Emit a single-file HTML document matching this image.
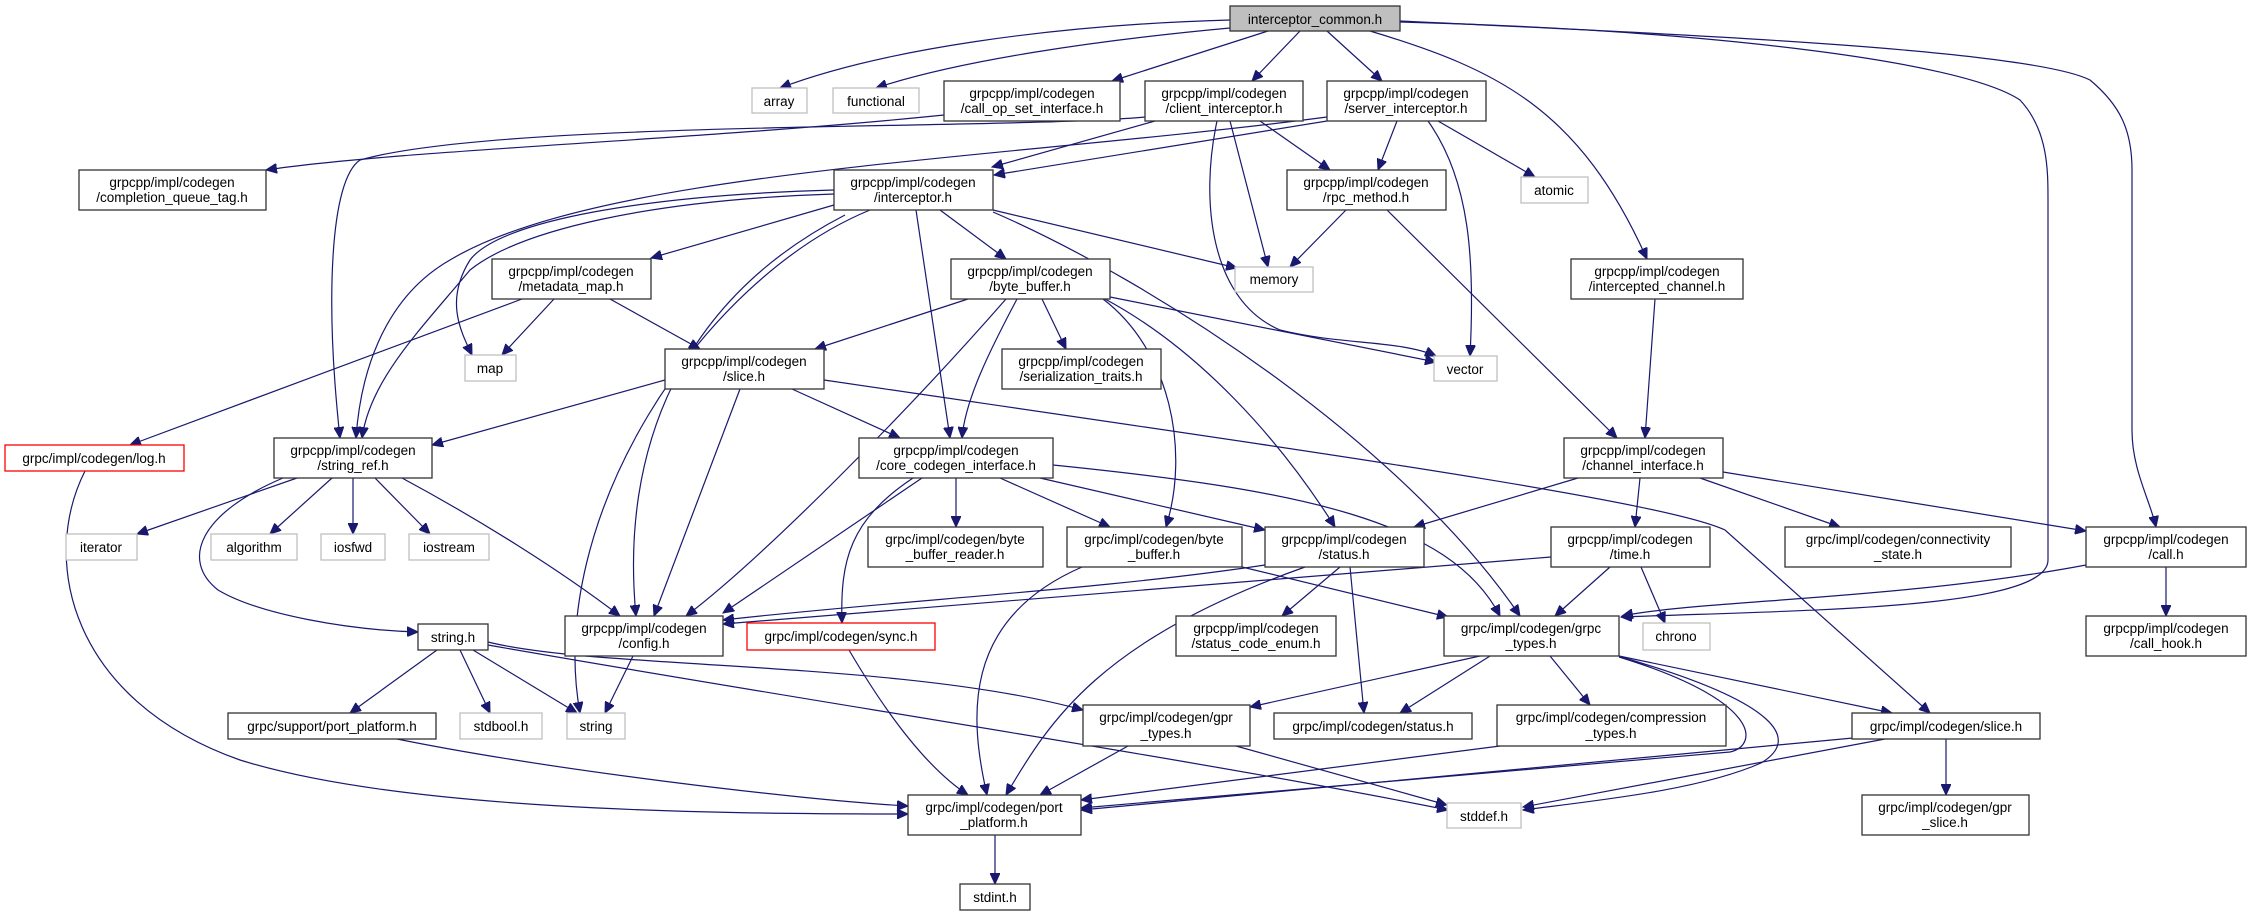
<!DOCTYPE html>
<html><head><meta charset="utf-8"><style>
html,body{margin:0;padding:0;background:#fff;}
svg{display:block;}
text{font-family:"Liberation Sans","DejaVu Sans",sans-serif;font-size:13.5px;fill:#000;text-anchor:middle;}
.n{fill:#fff;stroke:#333;stroke-width:1.3;}
.s{fill:#fff;stroke:#bfbfbf;stroke-width:1.3;}
.r{fill:#fff;stroke:#ff0000;stroke-width:1.3;}
.e{fill:none;stroke:#191970;stroke-width:1.2;}
</style></head><body>
<svg width="2251" height="916" viewBox="0 0 2251 916" xmlns="http://www.w3.org/2000/svg">
<defs><marker id="a" markerUnits="userSpaceOnUse" markerWidth="12" markerHeight="10" refX="11" refY="5" orient="auto"><path d="M0,0 L11,5 L0,10 z" fill="#191970" stroke="#191970"/></marker></defs>
<g class="e" marker-end="url(#a)">
<path d="M1230,20 C1050,25 880,50 780,88"/>
<path d="M1230,28 C1100,40 960,60 876,88"/>
<path d="M1268,31 L1112,81"/>
<path d="M1300,31 L1252,81"/>
<path d="M1327,31 L1382,81"/>
<path d="M1370,31 C1500,70 1580,110 1647,259"/>
<path d="M1400,22 C1700,30 1960,60 2020,100 C2048,130 2048,170 2048,200 L2048,560 C2048,610 1800,610 1621,617"/>
<path d="M1400,21 C1700,35 2030,50 2090,80 C2120,105 2132,130 2132,170 L2132,430 C2132,470 2150,500 2156,527"/>
<path d="M944,115 C700,140 400,150 266,170"/>
<path d="M1145,117 C1000,130 500,120 360,160 C330,180 325,300 340,438"/>
<path d="M1327,117 C1000,160 600,170 450,260 C380,300 360,380 356,438"/>
<path d="M834,190 C650,195 500,220 470,260 C445,300 460,330 472,355"/>
<path d="M834,194 C650,200 520,230 470,270 C420,330 370,380 362,438"/>
<path d="M1155,121 L992,167"/>
<path d="M1327,121 L994,175"/>
<path d="M1230,121 L1268,267"/>
<path d="M1260,121 L1330,170"/>
<path d="M1217,121 C1200,200 1210,300 1280,330 C1340,345 1400,340 1436,356"/>
<path d="M1397,121 L1378,170"/>
<path d="M1438,121 L1535,177"/>
<path d="M1428,121 C1470,180 1475,260 1470,356"/>
<path d="M1346,210 L1290,267"/>
<path d="M1387,210 L1617,438"/>
<path d="M1655,299 L1645,438"/>
<path d="M834,205 L651,258"/>
<path d="M993,210 L1237,268"/>
<path d="M940,210 L1006,259"/>
<path d="M916,210 L950,438"/>
<path d="M870,210 C700,280 545,520 580,713"/>
<path d="M845,215 C680,300 620,450 636,616"/>
<path d="M993,212 C1150,280 1400,440 1520,616"/>
<path d="M522,299 L130,445"/>
<path d="M554,299 L502,355"/>
<path d="M610,299 L700,349"/>
<path d="M968,299 L815,349"/>
<path d="M1006,299 C900,420 760,560 686,616"/>
<path d="M1017,299 C990,350 965,400 962,438"/>
<path d="M1042,299 L1066,349"/>
<path d="M1110,297 L1436,362"/>
<path d="M1103,299 C1170,350 1190,450 1166,527"/>
<path d="M1105,299 C1200,350 1280,440 1335,527"/>
<path d="M665,380 L432,445"/>
<path d="M792,389 L900,438"/>
<path d="M740,389 L654,616"/>
<path d="M824,380 C1300,450 1660,500 1725,530 L1930,713"/>
<path d="M297,478 L137,534"/>
<path d="M332,478 L270,534"/>
<path d="M353,478 L353,534"/>
<path d="M375,478 L430,534"/>
<path d="M283,478 C200,513 180,560 218,590 C260,615 350,630 418,632"/>
<path d="M402,478 C480,520 560,570 620,616"/>
<path d="M85,471 C40,560 70,700 240,760 C400,810 700,814 908,814"/>
<path d="M397,739 C550,770 800,800 908,806"/>
<path d="M437,650 L350,713"/>
<path d="M460,650 L490,713"/>
<path d="M473,650 L577,713"/>
<path d="M488,642 C600,670 900,660 1083,710"/>
<path d="M488,645 C800,700 1200,760 1448,810"/>
<path d="M633,656 L605,713"/>
<path d="M956,478 L956,527"/>
<path d="M1000,478 L1110,527"/>
<path d="M1040,478 L1265,530"/>
<path d="M1053,465 C1300,490 1450,520 1500,616"/>
<path d="M922,478 L723,613"/>
<path d="M913,478 C850,520 840,560 842,623"/>
<path d="M1082,567 C960,620 970,720 987,795"/>
<path d="M1242,567 L1448,617"/>
<path d="M1340,567 L1282,616"/>
<path d="M1350,567 L1364,713"/>
<path d="M1305,567 C1100,640 1050,720 1006,795"/>
<path d="M1265,565 C1100,590 900,600 723,620"/>
<path d="M849,650 C890,720 930,770 968,795"/>
<path d="M1578,478 L1414,527"/>
<path d="M1640,478 L1635,527"/>
<path d="M1700,478 L1840,527"/>
<path d="M1723,472 L2086,531"/>
<path d="M1610,567 L1555,616"/>
<path d="M1641,567 L1665,623"/>
<path d="M1551,557 L723,624"/>
<path d="M2086,565 C1900,600 1700,600 1622,616"/>
<path d="M2166,567 L2166,616"/>
<path d="M1480,656 L1250,707"/>
<path d="M1490,656 L1400,713"/>
<path d="M1550,656 L1590,705"/>
<path d="M1619,656 L1892,713"/>
<path d="M1619,657 C1760,700 1760,745 1730,752 L1081,808"/>
<path d="M1621,657 C1781,703 1800,740 1761,763 C1700,790 1600,800 1523,810"/>
<path d="M1500,746 L1081,800"/>
<path d="M1128,746 L1040,795"/>
<path d="M1236,746 L1447,805"/>
<path d="M1853,738 L1081,810"/>
<path d="M1885,739 L1523,807"/>
<path d="M1946,739 L1946,795"/>
<path d="M995,835 L995,884"/>
</g>

<!-- nodes -->
<rect x="1230" y="6" width="170" height="25" fill="#bfbfbf" stroke="#333" stroke-width="1.3"/><text x="1315" y="24">interceptor_common.h</text>
<rect class="s" x="752" y="88" width="55" height="25"/><text x="779" y="106">array</text>
<rect class="s" x="833" y="88" width="86" height="25"/><text x="876" y="106">functional</text>
<rect class="n" x="944" y="81" width="176" height="40"/><text x="1032" y="98">grpcpp/impl/codegen</text><text x="1032" y="113">/call_op_set_interface.h</text>
<rect class="n" x="1145" y="81" width="158" height="40"/><text x="1224" y="98">grpcpp/impl/codegen</text><text x="1224" y="113">/client_interceptor.h</text>
<rect class="n" x="1327" y="81" width="159" height="40"/><text x="1406" y="98">grpcpp/impl/codegen</text><text x="1406" y="113">/server_interceptor.h</text>
<rect class="n" x="79" y="170" width="187" height="40"/><text x="172" y="187">grpcpp/impl/codegen</text><text x="172" y="202">/completion_queue_tag.h</text>
<rect class="n" x="834" y="170" width="159" height="40"/><text x="913" y="187">grpcpp/impl/codegen</text><text x="913" y="202">/interceptor.h</text>
<rect class="n" x="1287" y="170" width="159" height="40"/><text x="1366" y="187">grpcpp/impl/codegen</text><text x="1366" y="202">/rpc_method.h</text>
<rect class="s" x="1521" y="177" width="67" height="26"/><text x="1554" y="195">atomic</text>
<rect class="n" x="492" y="259" width="159" height="40"/><text x="571" y="276">grpcpp/impl/codegen</text><text x="571" y="291">/metadata_map.h</text>
<rect class="n" x="951" y="259" width="159" height="40"/><text x="1030" y="276">grpcpp/impl/codegen</text><text x="1030" y="291">/byte_buffer.h</text>
<rect class="s" x="1235" y="267" width="78" height="25"/><text x="1274" y="284">memory</text>
<rect class="n" x="1571" y="259" width="172" height="40"/><text x="1657" y="276">grpcpp/impl/codegen</text><text x="1657" y="291">/intercepted_channel.h</text>
<rect class="s" x="465" y="355" width="51" height="26"/><text x="490" y="373">map</text>
<rect class="n" x="665" y="349" width="159" height="40"/><text x="744" y="366">grpcpp/impl/codegen</text><text x="744" y="381">/slice.h</text>
<rect class="n" x="1002" y="349" width="159" height="40"/><text x="1081" y="366">grpcpp/impl/codegen</text><text x="1081" y="381">/serialization_traits.h</text>
<rect class="s" x="1434" y="356" width="63" height="25"/><text x="1465" y="374">vector</text>
<rect class="r" x="5" y="445" width="179" height="26"/><text x="94" y="463">grpc/impl/codegen/log.h</text>
<rect class="n" x="274" y="438" width="158" height="40"/><text x="353" y="455">grpcpp/impl/codegen</text><text x="353" y="470">/string_ref.h</text>
<rect class="n" x="859" y="438" width="194" height="40"/><text x="956" y="455">grpcpp/impl/codegen</text><text x="956" y="470">/core_codegen_interface.h</text>
<rect class="n" x="1564" y="438" width="159" height="40"/><text x="1643" y="455">grpcpp/impl/codegen</text><text x="1643" y="470">/channel_interface.h</text>
<rect class="s" x="66" y="534" width="71" height="26"/><text x="101" y="552">iterator</text>
<rect class="s" x="211" y="534" width="86" height="26"/><text x="254" y="552">algorithm</text>
<rect class="s" x="321" y="534" width="64" height="26"/><text x="353" y="552">iosfwd</text>
<rect class="s" x="409" y="534" width="80" height="26"/><text x="449" y="552">iostream</text>
<rect class="n" x="868" y="527" width="175" height="40"/><text x="955" y="544">grpc/impl/codegen/byte</text><text x="955" y="559">_buffer_reader.h</text>
<rect class="n" x="1067" y="527" width="175" height="40"/><text x="1154" y="544">grpc/impl/codegen/byte</text><text x="1154" y="559">_buffer.h</text>
<rect class="n" x="1265" y="527" width="159" height="40"/><text x="1344" y="544">grpcpp/impl/codegen</text><text x="1344" y="559">/status.h</text>
<rect class="n" x="1551" y="527" width="159" height="40"/><text x="1630" y="544">grpcpp/impl/codegen</text><text x="1630" y="559">/time.h</text>
<rect class="n" x="1785" y="527" width="226" height="40"/><text x="1898" y="544">grpc/impl/codegen/connectivity</text><text x="1898" y="559">_state.h</text>
<rect class="n" x="2086" y="527" width="160" height="40"/><text x="2166" y="544">grpcpp/impl/codegen</text><text x="2166" y="559">/call.h</text>
<rect class="n" x="418" y="624" width="70" height="26"/><text x="453" y="642">string.h</text>
<rect class="n" x="565" y="616" width="158" height="40"/><text x="644" y="633">grpcpp/impl/codegen</text><text x="644" y="648">/config.h</text>
<rect class="r" x="747" y="623" width="188" height="27"/><text x="841" y="641">grpc/impl/codegen/sync.h</text>
<rect class="n" x="1176" y="616" width="160" height="40"/><text x="1256" y="633">grpcpp/impl/codegen</text><text x="1256" y="648">/status_code_enum.h</text>
<rect class="n" x="1444" y="616" width="175" height="40"/><text x="1531" y="633">grpc/impl/codegen/grpc</text><text x="1531" y="648">_types.h</text>
<rect class="s" x="1643" y="623" width="67" height="27"/><text x="1676" y="641">chrono</text>
<rect class="n" x="2086" y="616" width="160" height="40"/><text x="2166" y="633">grpcpp/impl/codegen</text><text x="2166" y="648">/call_hook.h</text>
<rect class="n" x="228" y="713" width="208" height="26"/><text x="332" y="731">grpc/support/port_platform.h</text>
<rect class="s" x="460" y="713" width="82" height="26"/><text x="501" y="731">stdbool.h</text>
<rect class="s" x="567" y="713" width="58" height="26"/><text x="596" y="731">string</text>
<rect class="n" x="1083" y="705" width="167" height="41"/><text x="1166" y="722">grpc/impl/codegen/gpr</text><text x="1166" y="738">_types.h</text>
<rect class="n" x="1274" y="713" width="198" height="26"/><text x="1373" y="731">grpc/impl/codegen/status.h</text>
<rect class="n" x="1497" y="705" width="229" height="41"/><text x="1611" y="722">grpc/impl/codegen/compression</text><text x="1611" y="738">_types.h</text>
<rect class="n" x="1852" y="713" width="188" height="26"/><text x="1946" y="731">grpc/impl/codegen/slice.h</text>
<rect class="n" x="908" y="795" width="173" height="40"/><text x="994" y="812">grpc/impl/codegen/port</text><text x="994" y="827">_platform.h</text>
<rect class="s" x="1447" y="803" width="74" height="25"/><text x="1484" y="821">stddef.h</text>
<rect class="n" x="1862" y="795" width="167" height="40"/><text x="1945" y="812">grpc/impl/codegen/gpr</text><text x="1945" y="827">_slice.h</text>
<rect class="n" x="960" y="884" width="70" height="26"/><text x="995" y="902">stdint.h</text>
</svg>
</body></html>
